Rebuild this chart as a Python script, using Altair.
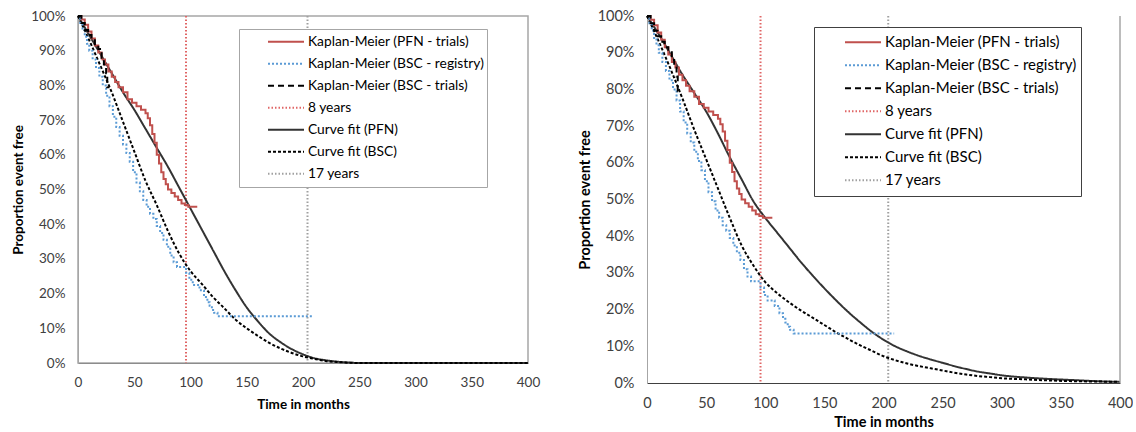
import altair as alt
import pandas as pd

# ---------------- data ----------------
series = ["Kaplan-Meier (PFN - trials)", "Kaplan-Meier (BSC - registry)",
          "Kaplan-Meier (BSC - trials)", "8 years", "Curve fit (PFN)",
          "Curve fit (BSC)", "17 years"]

# Kaplan-Meier, PFN trials (step curve)
km_pfn_t = [0, 3, 6, 9, 12, 15, 18, 21, 24, 27, 30, 33, 36, 40, 44, 48, 52, 56, 60,
            62, 64, 66, 68, 70, 72, 74, 76, 78, 80, 83, 86, 89, 92, 95, 98, 106]
km_pfn_p = [100, 99, 97.5, 95.5, 93.5, 91.5, 89.5, 87.5, 86, 84, 82.5, 81, 79.5, 78, 76,
            75, 74, 73, 72, 70.5, 68.5, 66, 63.5, 60, 57.5, 55, 53, 51.5, 50, 49, 48,
            47, 46, 45.5, 45, 45]

# Kaplan-Meier, BSC registry (step curve)
km_reg_t = [0, 2, 4, 6, 8, 10, 13, 16, 19, 22, 25, 28, 31, 34, 37, 40, 43, 46, 49, 52,
            55, 58, 61, 64, 67, 70, 73, 76, 79, 82, 85, 88, 96, 99, 102, 108, 112, 115,
            117, 119, 121, 124, 127, 209]
km_reg_p = [100, 98, 96, 94, 92, 90, 87.5, 85, 82.5, 80, 77, 74, 71, 68, 65.5, 63, 60.5,
            58, 55, 52, 49.5, 47, 45, 43, 41.5, 39.5, 37.5, 35.5, 33.5, 31, 29, 27.7, 26,
            24, 22.5, 21, 19, 17.5, 16.5, 15.3, 14.5, 13.5, 13.5, 13.5]

# Kaplan-Meier, BSC trials (step curve)
km_tr_t = [0, 3, 6, 9, 12, 15, 18, 21, 23, 25, 26, 28]
km_tr_p = [100, 98, 96, 94.5, 93, 91.5, 90.5, 88, 86, 83.5, 79.5, 79.5]

# Curve fits, left panel
fitL_t = [0, 10, 20, 30, 40, 50, 60, 70, 80, 90, 100, 110, 120, 130, 140, 150, 160,
          170, 180, 190, 200, 210, 220, 230, 240, 250, 300, 350, 400]
fitL_pfn = [100, 94.5, 89, 83.5, 78, 73, 67.5, 62, 56.5, 50.5, 44.5, 38.5, 32.5, 26.5,
            21, 16, 12, 8.5, 6, 4, 2.5, 1.4, 0.8, 0.4, 0.15, 0, 0, 0, 0]
fitL_bsc = [100, 93, 85.6, 78, 69.5, 61, 52.5, 45.5, 38, 31.5, 26.5, 22.8, 19, 15.8,
            12.5, 10, 7.8, 5.8, 4.2, 2.9, 1.9, 1.2, 0.6, 0.3, 0.1, 0, 0, 0, 0]

# Curve fits, right panel
fitR_t = [0, 10, 20, 30, 40, 50, 60, 70, 80, 90, 100, 110, 120, 130, 140, 150, 160,
          170, 180, 190, 200, 210, 220, 230, 240, 250, 260, 270, 280, 290, 300, 320,
          340, 360, 380, 400]
fitR_pfn = [100, 95, 89.5, 84, 79, 74, 68, 61.5, 55.5, 49.5, 45, 41, 37, 33, 29.3,
            25.8, 22.5, 19.4, 16.6, 14, 11.8, 10, 8.6, 7.4, 6.4, 5.5, 4.6, 3.8, 3.1,
            2.6, 2.1, 1.5, 1.1, 0.8, 0.5, 0.3]
fitR_bsc = [100, 93, 85.5, 77.5, 69, 61, 53, 45, 37.5, 32, 27.5, 24.5, 22, 19.8, 17.8,
            15.8, 13.8, 12, 10.3, 8.8, 7.3, 6.2, 5.3, 4.6, 4, 3.4, 2.8, 2.3, 1.9, 1.6,
            1.3, 1, 0.7, 0.5, 0.4, 0.3]

vline_t = [96, 204]
vline_series = ["8 years", "17 years"]

colors = ["#C0504D", "#5B9BD5", "#000000", "#E06666", "#333333", "#000000", "#A0A0A0"]
dashes = [[1, 0], [2, 2], [6, 4], [1.5, 2], [1, 0], [3, 2], [1.5, 2]]
widths = [2, 2, 2, 1, 1.5, 1.2, 1]

FONT = "Lato"


def km_frame():
    rows = []
    for t, p in zip(km_pfn_t, km_pfn_p):
        rows.append({"t": t, "p": p / 100, "series": series[0]})
    for t, p in zip(km_reg_t, km_reg_p):
        rows.append({"t": t, "p": p / 100, "series": series[1]})
    for t, p in zip(km_tr_t, km_tr_p):
        rows.append({"t": t, "p": p / 100, "series": series[2]})
    return pd.DataFrame(rows)


def fit_frame(ts, pfn, bsc):
    rows = []
    for t, p in zip(ts, pfn):
        rows.append({"t": t, "p": p / 100, "series": series[4]})
    for t, p in zip(ts, bsc):
        rows.append({"t": t, "p": p / 100, "series": series[5]})
    return pd.DataFrame(rows)


def panel(ts, pfn, bsc, W, H, fs, lfs, lx, ly, clip, pad, symoff, leg_stroke,
          xdom, ydom, xtp, right_border):
    leg = alt.Legend(title=None, orient="none", legendX=lx, legendY=ly,
                     symbolType="stroke", symbolSize=1296, clipHeight=clip,
                     rowPadding=0, padding=pad, symbolOffset=symoff,
                     labelOffset=3, labelFontSize=lfs, labelFont=FONT,
                     labelColor="#000000", strokeColor=leg_stroke,
                     fillColor="white", labelLimit=400)
    color = alt.Color("series:N", scale=alt.Scale(domain=series, range=colors), legend=leg)
    dash = alt.StrokeDash("series:N", scale=alt.Scale(domain=series, range=dashes), legend=leg)
    sw = alt.StrokeWidth("series:N", scale=alt.Scale(domain=series, range=widths), legend=leg)

    x = alt.X("t:Q", scale=alt.Scale(domain=[0, 400], nice=False),
              axis=alt.Axis(values=list(range(0, 401, 50)), title="Time in months",
                            ticks=False, grid=False, domainColor=xdom, labelFlush=False,
                            labelFont=FONT, labelFontSize=fs, labelColor="#404040",
                            labelPadding=fs - 1.5, titleFont=FONT, titleFontSize=fs,
                            titleFontWeight="bold", titleColor="#000000",
                            titlePadding=xtp))
    y = alt.Y("p:Q", scale=alt.Scale(domain=[0, 1], nice=False),
              axis=alt.Axis(values=[i / 10 for i in range(11)], format=".0%",
                            title="Proportion event free", ticks=False, grid=False,
                            domainColor=ydom, labelFont=FONT, labelFontSize=fs,
                            labelColor="#404040", labelPadding=13, titleFont=FONT,
                            titleFontSize=fs, titleFontWeight="bold",
                            titleColor="#000000", titlePadding=5))

    km = alt.Chart(km_frame()).mark_line(interpolate="step-after").encode(
        x=x, y=y, color=color, strokeDash=dash, strokeWidth=sw, detail="series:N")
    fit = alt.Chart(fit_frame(ts, pfn, bsc)).mark_line(interpolate="monotone").encode(
        x=x, y=y, color=color, strokeDash=dash, strokeWidth=sw, detail="series:N")
    vl = alt.Chart(pd.DataFrame({"t": vline_t, "series": vline_series})).mark_rule().encode(
        x=x, color=color, strokeDash=dash, strokeWidth=sw)
    layers = [vl, fit, km]
    if right_border:
        rb = alt.Chart(pd.DataFrame({"a": [0]})).mark_rule(color="#A6A6A6", strokeWidth=1.5).encode(
            x=alt.value(W), y=alt.value(0), y2=alt.value(H))
        layers.append(rb)
    return alt.layer(*layers).properties(width=W, height=H)


left = panel(fitL_t, fitL_pfn, fitL_bsc, 450, 347, 13.5, 13.8, 161, 13, 21.5, 2, 26,
             "#A6A6A6", "#8C8C8C", "#A6A6A6", 9, False)
right = panel(fitR_t, fitR_pfn, fitR_bsc, 473, 367, 14.5, 15, 167, 11, 22.5, 4, 26,
              "#404040", "#404040", "#A6A6A6", 6, True)

left = left.properties(view=alt.ViewBackground(stroke="#A6A6A6", strokeWidth=1.5))
right = right.properties(view=alt.ViewBackground(stroke=None))

chart = alt.hconcat(left, right, spacing=36).resolve_scale(
    color="independent", strokeDash="independent", strokeWidth="independent"
).resolve_legend(
    color="independent", strokeDash="independent", strokeWidth="independent"
).properties(
    padding={"left": 10, "top": 8, "right": 0, "bottom": 0}, background="white"
).configure_view(stroke=None)

chart.save("out.html", embed_options={"renderer": "svg", "actions": False})
